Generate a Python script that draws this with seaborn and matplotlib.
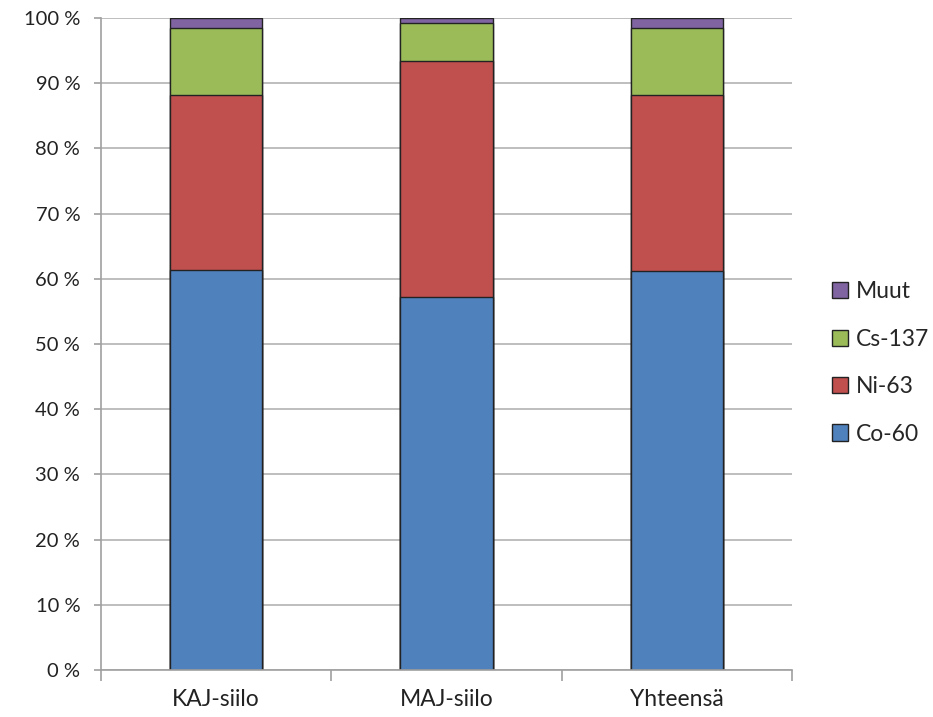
import matplotlib
matplotlib.use("Agg")
import matplotlib.pyplot as plt
import seaborn as sns
import pandas as pd
import numpy as np
from matplotlib.patches import Patch
from matplotlib.ticker import FixedLocator

categories = ["KAJ-siilo", "MAJ-siilo", "Yhteensä"]
series = ["Co-60", "Ni-63", "Cs-137", "Muut"]
co60 = [61.4, 57.2, 61.2]
ni63 = [26.8, 36.2, 27.0]
cs137 = [10.2, 5.9, 10.2]
muut = [1.6, 0.7, 1.6]
colors = ["#4F81BD", "#C0504D", "#9BBB59", "#8064A2"]
yticks = list(range(0, 101, 10))
ytick_labels = [f"{v} %" for v in yticks]

sns.set_theme(style="white")
plt.rcParams['font.family'] = ['Lato', 'DejaVu Sans']

values = [co60, ni63, cs137, muut]
cum = np.cumsum(np.array(values), axis=0)

fig = plt.figure(figsize=(9.33, 7.17), dpi=100)
ax = fig.add_axes([101/933, 1 - 670/717, (792-101)/933, (670-18)/717])

ax.yaxis.grid(True, color="#b3b3b3", linewidth=1.2)
ax.set_axisbelow(True)

for i in range(len(series) - 1, -1, -1):
    df = pd.DataFrame({"cat": categories, "val": cum[i]})
    sns.barplot(data=df, x="cat", y="val", color=colors[i], width=0.4,
                edgecolor="#222222", linewidth=1.0, saturation=1, ax=ax, order=categories)

ax.set_xlim(-0.5, 2.5)
ax.set_ylim(0, 100)
ax.set_yticks(yticks)
ax.set_yticklabels(ytick_labels, fontsize=14.5, color="#222222")
ax.set_xlabel("")
ax.set_ylabel("")
ax.set_xticks([0, 1, 2])
ax.set_xticklabels(categories, fontsize=16.5, color="#222222")
ax.xaxis.set_minor_locator(FixedLocator([-0.5, 0.5, 1.5, 2.5]))
ax.tick_params(axis="x", which="major", length=0, pad=14)
ax.tick_params(axis="x", which="minor", length=8, color="#a0a0a0", width=1.2, bottom=True)
ax.tick_params(axis="y", which="major", length=5, color="#a0a0a0", width=1.2, left=True, pad=10)

for s in ["top", "right"]:
    ax.spines[s].set_visible(False)
for s in ["left", "bottom"]:
    ax.spines[s].set_color("#a0a0a0")
    ax.spines[s].set_linewidth(1.2)

handles = [Patch(facecolor=colors[i], edgecolor="#222222", label=series[i]) for i in range(len(series) - 1, -1, -1)]
fig.legend(handles=handles, loc="center left", bbox_to_anchor=(832/933, 1 - 363/717),
           frameon=False, fontsize=16.5, labelspacing=1.15, handlelength=0.7, handleheight=0.7,
           handletextpad=0.35, borderaxespad=0, borderpad=0)

fig.savefig("out.png", dpi=100)
